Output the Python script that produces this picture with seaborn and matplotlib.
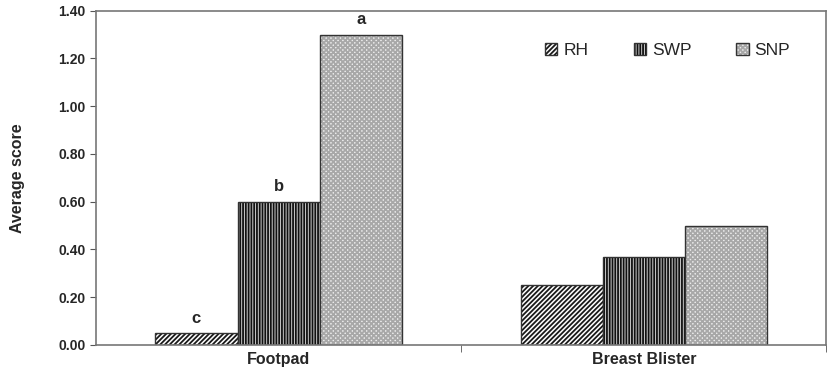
import numpy as np
import pandas as pd
import matplotlib
matplotlib.use('Agg')
import matplotlib.pyplot as plt
import matplotlib.patches as mpatches
from matplotlib.colors import to_rgba
import seaborn as sns

# dados
categorias = ['Footpad', 'Breast Blister']
tratamentos = ['RH', 'SWP', 'SNP']
rh = [0.05, 0.25]
swp = [0.60, 0.37]
snp = [1.30, 0.50]
letras = {('Footpad', 'RH'): 'c', ('Footpad', 'SWP'): 'b', ('Footpad', 'SNP'): 'a'}

df = pd.DataFrame({
    'Local': categorias * 3,
    'Tratamento': ['RH'] * 2 + ['SWP'] * 2 + ['SNP'] * 2,
    'Score': rh + swp + snp,
})

sns.set_style('white')
plt.rcParams['font.family'] = ['Liberation Sans', 'DejaVu Sans']
plt.rcParams['hatch.linewidth'] = 1.3

cores = {'RH': 'white', 'SWP': '#cfcfcf', 'SNP': '#ececec'}
hatches = {'RH': '///////', 'SWP': '||||||', 'SNP': 'xxxxxxx'}
hcolors = {'RH': '#1a1a1a', 'SWP': '#111111', 'SNP': '#a8a8a8'}

fig, ax = plt.subplots(figsize=(8.28, 3.84), dpi=100)
sns.barplot(data=df, x='Local', y='Score', hue='Tratamento', hue_order=tratamentos,
            order=categorias, width=0.675, palette=[cores[t] for t in tratamentos],
            edgecolor='#333333', linewidth=1.0, ax=ax, legend=False)

def pinta(p, trat):
    p.set_hatch(hatches[trat])
    p.set_edgecolor('#333333')
    p._hatch_color = to_rgba(hcolors[trat])

for cont, trat in zip(ax.containers, tratamentos):
    for barra in cont:
        pinta(barra, trat)

# letras de significancia
for cont, trat in zip(ax.containers, tratamentos):
    for barra, cat in zip(cont, categorias):
        if (cat, trat) in letras:
            ax.text(barra.get_x() + barra.get_width() / 2, barra.get_height() + 0.03,
                    letras[(cat, trat)], ha='center', va='bottom',
                    fontsize=12, fontweight='bold')

ax.set_ylim(0, 1.40)
ax.set_xlim(-0.5, 1.5)
ax.set_yticks(np.arange(0, 1.41, 0.2))
ax.set_yticklabels([f'{v:.2f}' for v in np.arange(0, 1.41, 0.2)], fontweight='bold', fontsize=10)
ax.set_xticks([0, 1])
ax.set_xticklabels(categorias, fontweight='bold', fontsize=11.5)
ax.set_xticks([0.5, 1.5], minor=True)
ax.tick_params(axis='x', which='major', length=0, pad=5)
ax.tick_params(axis='x', which='minor', length=5, direction='out', color='#555555', bottom=True)
ax.tick_params(axis='y', length=4, direction='out', color='#555555', left=True)
ax.set_xlabel('')
ax.set_ylabel('Average score', fontweight='bold', fontsize=11.5, labelpad=24)
for s in ax.spines.values():
    s.set_color('#777777')
    s.set_linewidth(1.2)

handles = []
for trat in tratamentos:
    h = mpatches.Patch(facecolor=cores[trat], label=trat, linewidth=1.0)
    pinta(h, trat)
    handles.append(h)
ax.legend(handles=handles, loc='upper right', bbox_to_anchor=(0.972, 0.95), ncol=3,
          frameon=False, fontsize=12.5, handlelength=0.7, handleheight=0.7,
          columnspacing=2.6, handletextpad=0.35)

plt.subplots_adjust(left=0.116, right=0.998, top=0.972, bottom=0.102)
plt.savefig('out.png', dpi=100)
